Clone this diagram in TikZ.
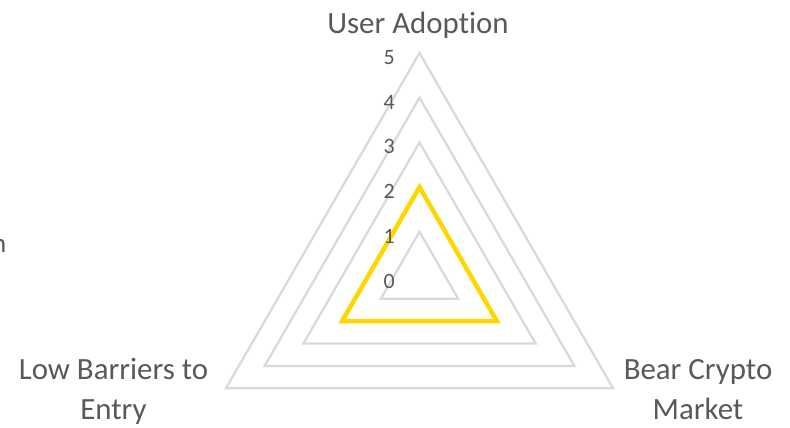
\documentclass[tikz,border=0pt]{standalone}
\usepackage{fontspec}
\setmainfont{Carlito}[Ligatures=NoCommon]
\definecolor{gridgrey}{HTML}{D9D9D9}
\definecolor{txtgrey}{HTML}{595959}
\definecolor{datayellow}{HTML}{FFD700}
\begin{document}
\begin{tikzpicture}[x=1bp,y=-1bp,
  gridline/.style={draw=gridgrey,line width=2.25bp,line join=miter},
  dataline/.style={draw=datayellow,line width=4.5bp,line join=miter},
  catlabel/.style={text=txtgrey,font=\fontsize{31}{40}\selectfont,align=center,inner sep=0pt},
  ticklabel/.style={text=txtgrey,font=\fontsize{22}{26}\selectfont,anchor=east,inner sep=0pt}]
\useasboundingbox (0,0) rectangle (790,427);
\def\u{44.7}
\begin{scope}[shift={(419.5,276.5)}]
  \foreach \k in {1,...,5}{
    \draw[gridline] (0,{-\k*\u}) -- ({0.866*\k*\u},{0.5*\k*\u}) -- ({-0.866*\k*\u},{0.5*\k*\u}) -- cycle;
  }
  \draw[dataline] (0,{-2*\u}) -- ({0.866*2*\u},{0.5*2*\u}) -- ({-0.866*2*\u},{0.5*2*\u}) -- cycle;
  \foreach \k in {0,...,5}{
    \node[ticklabel] (t\k) at (-24.5,{-\k*\u+4.5}) {\k};
  }
\end{scope}
\node[catlabel,anchor=base] (ua) at (418,33) {User Adoption};
\node[catlabel] (lb) at (113.5,391) {Low Barriers to\\Entry};
\node[catlabel] (bc) at (698,390) {Bear Crypto\\Market};
\node[text=txtgrey,font=\fontsize{27}{32}\selectfont,inner sep=0pt,anchor=base east] (cut) at (6.5,252) {n};
\end{tikzpicture}
\end{document}
